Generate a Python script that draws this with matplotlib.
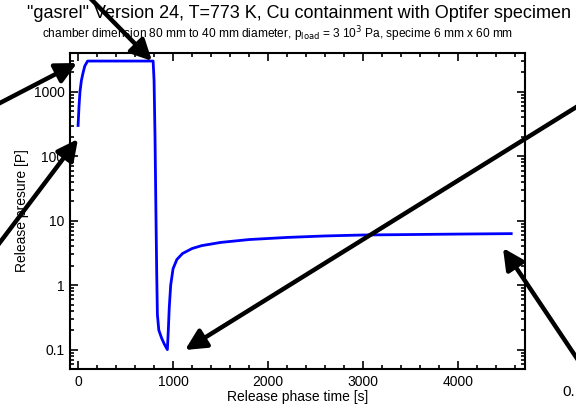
import matplotlib
matplotlib.use("Agg")
import matplotlib.pyplot as plt
from matplotlib.patches import FancyArrowPatch
from matplotlib.ticker import LogLocator, MultipleLocator, FixedLocator, FixedFormatter, NullFormatter

plt.rcParams['font.family'] = ['Liberation Sans', 'DejaVu Sans']

# release phase time [s] and release pressure [Pa]
time_s = [0, 10, 20, 35, 50, 70, 100, 400, 790,
          800, 810, 820, 828, 835, 850, 880, 910, 940,
          950, 960, 975, 1000, 1040, 1100, 1200, 1300, 1500,
          1800, 2200, 2600, 3000, 3500, 4000, 4560]
pressure = [300, 600, 1000, 1500, 1900, 2500, 3000, 3000, 3000,
            1500, 200, 12, 1.5, 0.35, 0.2, 0.15, 0.12, 0.1,
            0.2, 0.45, 1.0, 1.8, 2.5, 3.1, 3.7, 4.1, 4.6,
            5.1, 5.5, 5.8, 6.0, 6.1, 6.2, 6.3]

y_major = [0.1, 1, 10, 100, 1000]
y_labels = ['0.1', '1', '10', '100', '1000']

title = '"gasrel" Version 24, T=773 K, Cu containment with Optifer specimen'
subtitle = (r'chamber dimension 80 mm to 40 mm diameter, p$_{\rm load}$ = 3 10$^{3}$ Pa, '
            'specime 6 mm x 60 mm')

# overlay arrows in image pixels (tail, tip), origin top-left
arrows = [((-2, 104), (77, 63)),
          ((90, -2), (152, 61)),
          ((-2, 245), (78, 139)),
          ((578, 106), (185, 350)),
          ((578, 360), (503, 248))]

W, H = 576, 411
fig = plt.figure(figsize=(W / 100, H / 100), dpi=100)
ax = fig.add_axes([70 / W, 1 - 369 / H, (525 - 70) / W, (369 - 53) / H])

ax.plot(time_s, pressure, color='#0000ff', lw=2.0, solid_joinstyle='round')

ax.set_yscale('log')
ax.set_xlim(-85, 4705)
ax.set_ylim(0.05, 4000)

ax.xaxis.set_major_locator(MultipleLocator(1000))
ax.xaxis.set_minor_locator(MultipleLocator(200))
ax.yaxis.set_major_locator(FixedLocator(y_major))
ax.yaxis.set_major_formatter(FixedFormatter(y_labels))
ax.yaxis.set_minor_locator(LogLocator(base=10, subs=range(2, 10), numticks=20))
ax.yaxis.set_minor_formatter(NullFormatter())

ax.tick_params(which='both', direction='in', top=True, right=True, width=1.2,
               labelsize=10, colors='black')
ax.tick_params(which='major', length=6, pad=4)
ax.tick_params(which='minor', length=3)
for s in ax.spines.values():
    s.set_linewidth(1.5)

ax.set_xlabel('Release phase time [s]', fontsize=10, labelpad=1)
ax.set_ylabel('Release presure [P]', fontsize=10, labelpad=3)

fig.text(299 / W, 1 - 13 / H, title, ha='center', va='center', fontsize=13)
fig.text(278 / W, 1 - 34 / H, subtitle, ha='center', va='center', fontsize=8.6)

for (x0, y0), (x1, y1) in arrows:
    fig.add_artist(FancyArrowPatch(
        (x0, H - y0), (x1, H - y1), transform=None,
        arrowstyle='-|>,head_length=0.9,head_width=0.45', mutation_scale=14,
        lw=3.2, color='black', shrinkA=0, shrinkB=0))

fig.text(562 / W, 1 - 392 / H, '0.', ha='left', va='center', fontsize=11)

fig.savefig('out.png', dpi=100)
